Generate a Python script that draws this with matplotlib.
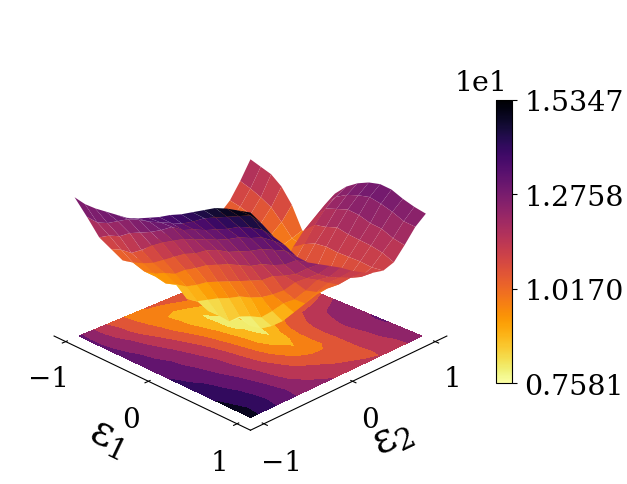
import numpy as np
import matplotlib
matplotlib.use('Agg')
import matplotlib.pyplot as plt

plt.rcParams['font.family'] = 'DejaVu Serif'
plt.rcParams['mathtext.fontset'] = 'dejavuserif'

eps1 = [-1, -.875, -.75, -.625, -.5, -.375, -.25, -.125, 0, .125, .25, .375, .5, .625, .75, .875, 1]
eps2 = [-1, -.875, -.75, -.625, -.5, -.375, -.25, -.125, 0, .125, .25, .375, .5, .625, .75, .875, 1]
energy = [
    [13.2, 12.25, 11.25, 10.6, 9.95, 9.7, 10.05, 10.25, 10.4, 10.5, 10.5, 10.4, 10.3, 10.3, 10.7, 11.35, 12.1],
    [13.1, 12.2, 11.5, 10.75, 10.05, 9.5, 9.1, 9.3, 9.8, 10.05, 10.2, 10.1, 10.1, 10.2, 10.6, 11.2, 11.95],
    [13.1, 12.35, 11.65, 10.8, 10.2, 9.6, 9.0, 8.75, 8.95, 9.3, 9.7, 9.9, 9.95, 10.1, 10.45, 11.0, 11.8],
    [13.15, 12.6, 11.95, 11.1, 10.4, 9.8, 9.15, 8.35, 8.05, 8.5, 9.0, 9.5, 9.75, 9.95, 10.25, 10.75, 11.45],
    [13.2, 12.85, 12.15, 11.45, 10.7, 9.95, 9.25, 8.45, 7.85, 8.2, 8.75, 9.2, 9.55, 9.75, 9.95, 10.3, 10.85],
    [13.25, 13.0, 12.35, 11.75, 11.0, 10.3, 9.5, 8.7, 7.85, 7.95, 8.5, 9.0, 9.35, 9.5, 9.65, 9.8, 9.95],
    [13.4, 13.1, 12.6, 12.0, 11.3, 10.55, 9.8, 8.95, 7.8, 7.75, 8.3, 8.9, 9.3, 9.5, 9.6, 9.65, 9.9],
    [13.6, 13.25, 12.9, 12.25, 11.5, 10.85, 10.0, 9.15, 8.2, 7.6, 8.15, 8.85, 9.4, 9.75, 10.1, 10.6, 11.1],
    [13.8, 13.4, 12.95, 12.4, 11.8, 11.05, 10.2, 9.4, 8.4, 7.7, 8.6, 9.8, 10.5, 11.0, 11.35, 11.7, 12.0],
    [14.05, 13.55, 13.15, 12.6, 12.0, 11.25, 10.4, 9.55, 8.55, 8.0, 9.1, 10.2, 10.8, 11.4, 11.9, 12.2, 12.45],
    [14.25, 13.8, 13.3, 12.75, 12.1, 11.4, 10.6, 9.75, 9.0, 8.4, 9.3, 10.4, 11.0, 11.5, 12.05, 12.45, 12.75],
    [14.5, 14.1, 13.5, 12.95, 12.3, 11.55, 10.8, 10.05, 9.5, 8.95, 9.6, 10.3, 11.05, 11.65, 12.2, 12.6, 12.95],
    [14.75, 14.3, 13.7, 13.2, 12.5, 11.8, 11.15, 10.4, 9.85, 9.5, 9.65, 10.2, 11.0, 11.55, 12.15, 12.7, 13.05],
    [15.0, 14.5, 13.95, 13.35, 12.75, 11.95, 11.35, 10.9, 10.4, 10.15, 10.1, 10.5, 11.0, 11.5, 12.0, 12.6, 13.0],
    [15.15, 14.7, 14.1, 13.55, 12.9, 12.15, 11.6, 11.25, 11.0, 10.7, 10.45, 10.6, 11.0, 11.45, 11.95, 12.45, 12.8],
    [15.25, 14.9, 14.2, 13.6, 13.05, 12.5, 12.0, 11.6, 11.3, 11.1, 10.9, 10.75, 10.95, 11.35, 11.75, 12.25, 12.65],
    [15.35, 14.75, 14.1, 13.6, 13.0, 12.6, 12.35, 12.1, 11.85, 11.55, 11.3, 11.1, 11.0, 11.15, 11.65, 12.2, 12.55],
]
cbar_ticks = [7.581, 10.170, 12.758, 15.347]
cbar_labels = ['0.7581', '1.0170', '1.2758', '1.5347']
axis_ticks = [-1, 0, 1]

X, Y = np.meshgrid(eps1, eps2, indexing='ij')
Z = np.array(energy)

fig = plt.figure(figsize=(6.27, 4.85), dpi=100)
ax = fig.add_axes([0.02, 0.036, 0.74, 0.906], projection='3d')

ax.contourf(X, Y, Z, zdir='z', offset=cbar_ticks[0], cmap='inferno_r')
surf = ax.plot_surface(X, Y, Z, rcount=17, ccount=17, cmap='inferno_r', vmin=cbar_ticks[0], vmax=cbar_ticks[-1],
                       linewidth=0, antialiased=True)

ax.view_init(elev=24, azim=-45)
ax.set_zlim(cbar_ticks[0], cbar_ticks[-1])
ax.set_xticks(axis_ticks)
ax.set_yticks(axis_ticks)
ax.set_zticks([])
ax.tick_params(labelsize=20, pad=6)
ax.set_xlabel(r'ε$_1$', fontsize=30, labelpad=10)
ax.set_ylabel(r'ε$_2$', fontsize=30, labelpad=10)
ax.grid(False)

# no panes, z axis hidden
for axis in (ax.xaxis, ax.yaxis, ax.zaxis):
    axis.pane.fill = False
    axis.pane.set_edgecolor('none')
ax.zaxis.line.set_color((1, 1, 1, 0))

cax = fig.add_axes([0.791, 0.208, 0.026, 0.584])
cb = fig.colorbar(surf, cax=cax)
cb.set_ticks(cbar_ticks)
cb.set_ticklabels(cbar_labels)
cb.ax.tick_params(labelsize=20.5, pad=5)
cax.text(0.7, 1.015, '1e1', transform=cax.transAxes, ha='right', va='bottom', fontsize=20.5)

fig.savefig('out.png', dpi=100)
